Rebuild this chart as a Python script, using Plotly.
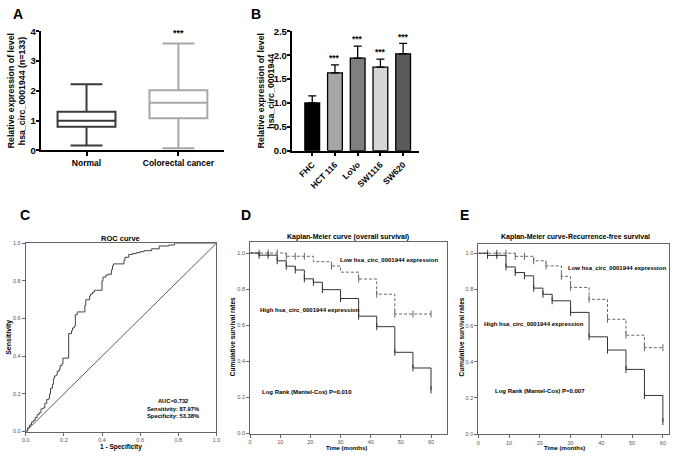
import plotly.graph_objects as go

W, H = 676, 459
FONT = "Arial, Liberation Sans, sans-serif"

# ---------------- Panel A data ----------------
box_groups = ["Normal", "Colorectal cancer"]
box_lower = [0.17, 0.07]
box_q1 = [0.80, 1.08]
box_median = [1.00, 1.60]
box_q3 = [1.30, 2.02]
box_upper = [2.22, 3.59]
box_colors = ["#3a3a3a", "#a8a8a8"]
box_sig = ["", "***"]

# ---------------- Panel B data ----------------
cell_lines = ["FHC", "HCT 116", "LoVo", "SW1116", "SW620"]
cell_means = [1.00, 1.63, 1.94, 1.75, 2.03]
cell_sd = [0.15, 0.17, 0.25, 0.17, 0.22]
cell_colors = ["#000000", "#a6a6a6", "#7f7f7f", "#d6d6d6", "#5a5a5a"]
cell_sig = ["", "***", "***", "***", "***"]

# ---------------- Panel C data (ROC) ----------------
roc_fpr = [0.0, 0.01, 0.02, 0.03, 0.04, 0.05, 0.06, 0.07, 0.08, 0.09, 0.10, 0.11, 0.12,
           0.125, 0.13, 0.14, 0.145, 0.15, 0.16, 0.165, 0.175, 0.18, 0.19, 0.195, 0.225,
           0.24, 0.245, 0.255, 0.26, 0.27, 0.31, 0.315, 0.32, 0.335, 0.34, 0.35, 0.36,
           0.37, 0.40, 0.405, 0.42, 0.43, 0.45, 0.455, 0.46, 0.48, 0.515, 0.52, 0.54,
           0.56, 0.58, 0.60, 0.62, 0.66, 0.70, 0.75, 0.78, 0.80, 1.0]
roc_tpr = [0.0, 0.02, 0.035, 0.05, 0.06, 0.075, 0.09, 0.10, 0.12, 0.125, 0.15, 0.17, 0.175,
           0.20, 0.23, 0.25, 0.28, 0.295, 0.30, 0.32, 0.33, 0.35, 0.36, 0.39, 0.52,
           0.535, 0.55, 0.56, 0.62, 0.635, 0.67, 0.70, 0.70, 0.72, 0.73, 0.74, 0.75,
           0.75, 0.80, 0.82, 0.83, 0.835, 0.86, 0.88, 0.89, 0.89, 0.91, 0.925, 0.94,
           0.945, 0.95, 0.955, 0.96, 0.97, 0.985, 0.99, 1.0, 1.0, 1.0]
ref_x = [0, 1]
ref_y = [0, 1]

# ---------------- Panel D data (overall survival) ----------------
os_low_t = [0, 12, 21, 27, 30, 36, 42, 48, 60]
os_low_s = [1.0, 0.982, 0.952, 0.928, 0.894, 0.856, 0.772, 0.662, 0.662]
os_low_ct = [3, 6, 9, 12, 15, 18, 27, 36, 42, 48, 54, 60]
os_low_cs = [1.0, 1.0, 1.0, 0.982, 0.982, 0.982, 0.928, 0.856, 0.772, 0.662, 0.662, 0.662]
os_high_t = [0, 3, 9, 12, 15, 18, 21, 24, 30, 36, 42, 48, 54, 60]
os_high_s = [1.0, 0.988, 0.957, 0.927, 0.906, 0.857, 0.838, 0.797, 0.748, 0.650, 0.592, 0.450, 0.363, 0.242]
os_high_ct = [3, 6, 9, 12, 15, 18, 21, 24, 30, 36, 42, 48, 54, 60]
os_high_cs = [0.988, 0.988, 0.957, 0.927, 0.906, 0.857, 0.838, 0.797, 0.748, 0.650, 0.592, 0.450, 0.363, 0.242]

# ---------------- Panel E data (recurrence-free survival) ----------------
rfs_low_t = [0, 12, 18, 22, 27, 30, 36, 42, 48, 54, 60]
rfs_low_s = [1.0, 0.983, 0.958, 0.930, 0.872, 0.811, 0.745, 0.635, 0.547, 0.478, 0.478]
rfs_low_ct = [3, 6, 9, 12, 15, 18, 22, 27, 30, 36, 42, 48, 54, 60]
rfs_low_cs = [1.0, 1.0, 1.0, 0.983, 0.983, 0.958, 0.930, 0.872, 0.811, 0.745, 0.635, 0.547, 0.478, 0.478]
rfs_high_t = [0, 3, 9, 12, 15, 18, 21, 24, 30, 36, 42, 48, 54, 60]
rfs_high_s = [1.0, 0.988, 0.924, 0.893, 0.875, 0.807, 0.773, 0.737, 0.673, 0.538, 0.465, 0.358, 0.214, 0.070]
rfs_high_ct = [3, 6, 9, 12, 15, 18, 21, 24, 30, 36, 42, 48, 54, 60]
rfs_high_cs = [0.988, 0.988, 0.924, 0.893, 0.875, 0.807, 0.773, 0.737, 0.673, 0.538, 0.465, 0.358, 0.214, 0.070]


def px(x):
    return x / W


def py(y):
    return 1 - y / H


fig = go.Figure()

# ---- A: box plots ----
for i, g in enumerate(box_groups):
    fig.add_trace(go.Box(
        x=[g], q1=[box_q1[i]], median=[box_median[i]], q3=[box_q3[i]],
        lowerfence=[box_lower[i]], upperfence=[box_upper[i]],
        width=0.63, whiskerwidth=0.55, fillcolor="white",
        line=dict(color=box_colors[i], width=2), boxpoints=False,
        showlegend=False, xaxis="x", yaxis="y", hoverinfo="skip"))

# ---- B: bars ----
fig.add_trace(go.Bar(
    x=cell_lines, y=cell_means,
    marker=dict(color=cell_colors, line=dict(color="black", width=1.3)),
    error_y=dict(type="data", array=cell_sd, arrayminus=[0] * len(cell_sd),
                 symmetric=False, color="black", thickness=1.3, width=4),
    showlegend=False, xaxis="x2", yaxis="y2"))

# ---- C: ROC ----
fig.add_trace(go.Scatter(x=ref_x, y=ref_y, mode="lines",
                         line=dict(color="#333", width=0.8),
                         showlegend=False, xaxis="x3", yaxis="y3"))
fig.add_trace(go.Scatter(x=roc_fpr, y=roc_tpr, mode="lines", line_shape="hv",
                         line=dict(color="#444", width=1),
                         showlegend=False, xaxis="x3", yaxis="y3"))


def km(t, s, ct, cs, dash, color, xa, ya):
    fig.add_trace(go.Scatter(x=t, y=s, mode="lines", line_shape="hv",
                             line=dict(color=color, width=1, dash=dash),
                             showlegend=False, xaxis=xa, yaxis=ya))
    fig.add_trace(go.Scatter(x=ct, y=cs, mode="markers",
                             marker=dict(symbol="line-ns", size=5,
                                         line=dict(color=color, width=1)),
                             showlegend=False, xaxis=xa, yaxis=ya))


km(os_low_t, os_low_s, os_low_ct, os_low_cs, "3px,2px", "#666", "x4", "y4")
km(os_high_t, os_high_s, os_high_ct, os_high_cs, "solid", "#333", "x4", "y4")
km(rfs_low_t, rfs_low_s, rfs_low_ct, rfs_low_cs, "3px,2px", "#666", "x5", "y5")
km(rfs_high_t, rfs_high_s, rfs_high_ct, rfs_high_cs, "solid", "#333", "x5", "y5")

bold9 = dict(family=FONT, size=9.5, color="black", weight="bold")
small = dict(family=FONT, size=5.5, color="#555")


def frame_axis(domain, rng, tickvals, ticktext, anchor):
    return dict(domain=domain, range=rng, tickvals=tickvals, ticktext=ticktext,
                showline=True, mirror=True, linecolor="#666", linewidth=1,
                ticks="outside", ticklen=3, tickcolor="#666", tickwidth=0.8,
                tickfont=small, showgrid=False, zeroline=False, anchor=anchor,
                fixedrange=True)


frac = ["0.0", "0.2", "0.4", "0.6", "0.8", "1.0"]
fracv = [0, 0.2, 0.4, 0.6, 0.8, 1.0]
tim = [0, 10, 20, 30, 40, 50, 60]

layout = dict(
    width=W, height=H, autosize=False,
    margin=dict(l=0, r=0, t=0, b=0),
    paper_bgcolor="white", plot_bgcolor="white",
    font=dict(family=FONT),
    bargap=0.35, boxmode="overlay",
    xaxis=dict(domain=[px(37), px(223)], range=[-0.5, 1.5], type="category",
               showline=True, linecolor="black", linewidth=1.5,
               ticks="outside", ticklen=4, tickwidth=1.5, tickcolor="black",
               tickfont=dict(family=FONT, size=8.5, color="black", weight="bold"),
               showgrid=False, zeroline=False, anchor="y"),
    yaxis=dict(domain=[py(148), py(26)], range=[0, 4], tickvals=[0, 1, 2, 3, 4],
               showline=True, linecolor="black", linewidth=1.5,
               ticks="outside", ticklen=3, tickwidth=1.5, tickcolor="black",
               ticklabelstandoff=-2,
               tickfont=bold9, showgrid=False, zeroline=False, anchor="x"),
    xaxis2=dict(domain=[px(291), px(420)], range=[-0.91, 4.7], type="category",
                showline=True, linecolor="black", linewidth=1.5,
                ticks="outside", ticklen=4, tickwidth=1.5, tickcolor="black",
                tickangle=-45,
                tickfont=dict(family=FONT, size=8.5, color="black", weight="bold"),
                showgrid=False, zeroline=False, anchor="y2"),
    yaxis2=dict(domain=[py(148.3), py(26)], range=[0, 2.5],
                tickvals=[0, 0.5, 1.0, 1.5, 2.0, 2.5],
                ticktext=["0.0", "0.5", "1.0", "1.5", "2.0", "2.5"],
                showline=True, linecolor="black", linewidth=1.5,
                ticks="outside", ticklen=3, tickwidth=1.5, tickcolor="black",
                ticklabelstandoff=-2,
                tickfont=bold9, showgrid=False, zeroline=False, anchor="x2"),
    xaxis3=frame_axis([px(22), px(215)], [0, 1], fracv, frac, "y3"),
    yaxis3=frame_axis([py(436), py(243)], [0, 1], fracv, frac, "x3"),
    xaxis4=frame_axis([px(249), px(448)], [0, 65.2], tim, [str(v) for v in tim], "y4"),
    yaxis4=frame_axis([py(438), py(242)], [0, 1.06], fracv, frac, "x4"),
    xaxis5=frame_axis([px(480), px(673)], [0, 62.0], tim, [str(v) for v in tim], "y5"),
    yaxis5=frame_axis([py(438.7), py(244)], [0, 1.05], fracv, frac, "x5"),
)

ann = []


def pa(text, x, y, size, bold=True, angle=0, xanchor="center", color="black"):
    ann.append(dict(text=text, x=px(x), y=py(y), xref="paper", yref="paper",
                    showarrow=False, textangle=angle, xanchor=xanchor, yanchor="middle",
                    font=dict(family=FONT, size=size, color=color,
                              weight="bold" if bold else "normal")))


def da(text, x, y, xr, yr, size, xanchor="left"):
    ann.append(dict(text=text, x=x, y=y, xref=xr, yref=yr, showarrow=False,
                    xanchor=xanchor, yanchor="middle",
                    font=dict(family=FONT, size=size, color="black", weight="bold")))


# panel letters
pa("A", 14, 8, 14)
pa("B", 255, 8, 14)
pa("C", 21, 214, 14)
pa("D", 245, 214, 14)
pa("E", 466, 214, 14)

# A/B y titles (two rotated lines each)
pa("Relative expression of level", 7.5, 87, 8.8, angle=-90)
pa("hsa_circ_0001944 (n=133)", 18.5, 87, 8.8, angle=-90)
pa("Relative expression of level", 259.5, 87, 8.8, angle=-90)
pa("hsa_circ_0001944", 270, 87, 8.8, angle=-90)

# significance stars
for g, s in zip(box_groups, box_sig):
    if s:
        da(s, g, 3.95, "x", "y", 9, xanchor="center")
for i, (c, s) in enumerate(zip(cell_lines, cell_sig)):
    if s:
        da(s, c, cell_means[i] + cell_sd[i] + 0.14, "x2", "y2", 8.5, xanchor="center")

# C texts
pa("ROC curve", 118, 238, 7.5)
pa("1 - Specificity", 118, 452, 6.5)
pa("Sensitivity", 5, 339, 7, angle=-90)
da("AUC=0.732<br>Sensitivity: 87.97%<br>Specificity: 53.38%", 0.77, 0.12, "x3", "y3", 5.8,
   xanchor="center")

# D texts
pa("Kaplan-Meier curve (overall survival)", 348, 237, 7)
pa("Cumulative survival rates", 232, 339, 6.5, angle=-90)
pa("Time (months)", 347, 453, 6)
da("Low hsa_circ_0001944 expression", 29.3, 0.962, "x4", "y4", 6)
da("High hsa_circ_0001944 expression", 2.5, 0.686, "x4", "y4", 6)
da("Log Rank (Mantel-Cox) P=0.010", 3.4, 0.232, "x4", "y4", 6)

# E texts
pa("Kaplan-Meier curve-Recurrence-free survival", 578, 237, 7)
pa("Cumulative survival rates", 463, 339, 6.5, angle=-90)
pa("Time (months)", 567, 453, 6)
da("Low hsa_circ_0001944 expression", 28.4, 0.919, "x5", "y5", 6)
da("High hsa_circ_0001944 expression", 1.07, 0.608, "x5", "y5", 6)
da("Log Rank (Mantel-Cox) P=0.007", 4.8, 0.239, "x5", "y5", 6)

layout["annotations"] = ann
fig.update_layout(**layout)

fig.write_html("out.html", config={"displayModeBar": False},
               post_script="document.body.style.margin='0';document.body.style.overflow='hidden';")
